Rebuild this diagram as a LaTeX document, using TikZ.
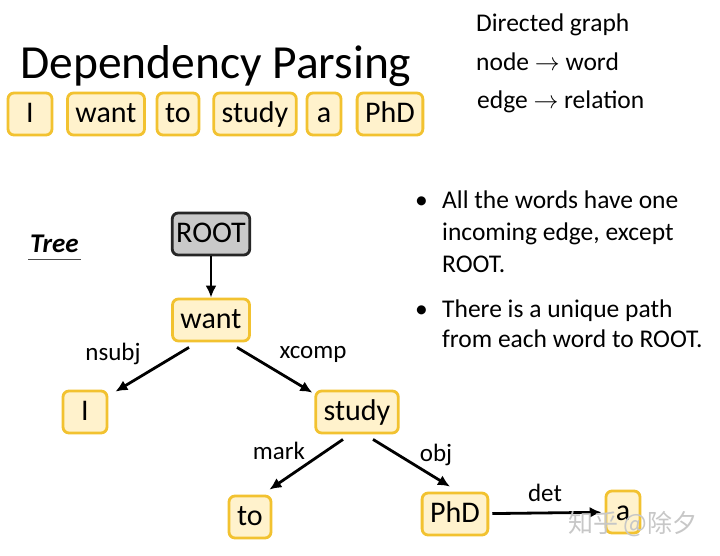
\documentclass[tikz,border=0pt]{standalone}
\usepackage{fontspec}
\setmainfont{Carlito}
\newfontfamily\cjk{Noto Sans CJK SC}
\usetikzlibrary{arrows.meta}
\definecolor{wordedge}{HTML}{F2C230}
\definecolor{wordfill}{HTML}{FFF2CC}
\definecolor{rootfill}{HTML}{C9C9C9}
\tikzset{
  word/.style={draw=wordedge, fill=wordfill, line width=2.8pt, rounded corners=6pt,
    minimum height=42pt, minimum width=34pt, inner xsep=8pt,
    text height=21pt, text depth=5pt, font=\fontsize{30}{36}\selectfont},
  rootword/.style={word, draw=black!85, fill=rootfill, inner xsep=4pt},
  dep/.style={-{Latex[length=12pt,width=11pt]}, line width=2.8pt},
  txt/.style={anchor=base west, inner sep=0pt, font=\fontsize{25.5}{30}\selectfont},
  rel/.style={anchor=base, inner sep=0pt, font=\fontsize{25}{30}\selectfont},
}
\begin{document}
\begin{tikzpicture}[x=1pt,y=-1pt]
  \useasboundingbox[fill=white] (0,0) rectangle (720,555);
  % title and sentence
  \node[txt, font=\fontsize{47.5}{56}\selectfont] (title) at (20,78) {Dependency Parsing};
  \node[word, minimum width=44pt] (sI) at (30,114) {I};
  \node[word] (swant) at (106,114) {want};
  \node[word, minimum width=42pt] (sto) at (178,114) {to};
  \node[word] (sstudy) at (255,114) {study};
  \node[word] (sa) at (324,114) {a};
  \node[word] (sPhD) at (390,114) {PhD};
  % directed graph
  \node[txt] (dgraph) at (476,31) {Directed graph};
  \node[txt] (dnode) at (476,70) {node $\rightarrow$ word};
  \node[txt] (dedge) at (477,108) {edge $\rightarrow$ relation};
  % tree
  \node[txt, font=\bfseries\itshape\fontsize{27}{32}\selectfont] (tree) at (30,252) {Tree};
  \draw[line width=1.2pt, black!70] ([shift={(-2pt,-7pt)}]tree.south west) -- ([shift={(2pt,-7pt)}]tree.south east);
  \node[rootword] (root) at (211,234) {ROOT};
  \node[word] (twant) at (211,320) {want};
  \node[word, minimum width=44pt] (tI) at (85,412) {I};
  \node[word] (tstudy) at (357,412) {study};
  \node[word, minimum width=42pt] (tto) at (250,517) {to};
  \node[word] (tPhD) at (455,514) {PhD};
  \node[word] (ta) at (623,512) {a};
  \draw[dep] (root) -- (twant);
  \draw[dep] ([shift={(-22pt,-5pt)}]twant.south) -- ([shift={(7pt,-2pt)}]tI.north east);
  \draw[dep] ([shift={(26pt,-5pt)}]twant.south) -- ([shift={(-2pt,-3pt)}]tstudy.north west);
  \draw[dep] ([shift={(-14pt,-5pt)}]tstudy.south) -- ([shift={(-3pt,5pt)}]tto.north east);
  \draw[dep] ([shift={(16pt,-5pt)}]tstudy.south) -- ([shift={(-5pt,5pt)}]tPhD.north);
  \draw[dep, shorten <=3pt, shorten >=3pt] (tPhD) -- (ta);
  \node[rel] (lnsubj) at (113,360) {nsubj};
  \node[rel] (lxcomp) at (313,358) {xcomp};
  \node[rel] (lmark) at (279,459) {mark};
  \node[rel] (lobj) at (436,461) {obj};
  \node[rel] (ldet) at (545,501) {det};
  % bullets
  \node[txt] (bulletA) at (415,208) {\textbullet};
  \node[txt] (lineA1) at (442,208) {All the words have one};
  \node[txt] (lineA2) at (442,240) {incoming edge, except};
  \node[txt] (lineA3) at (442,272) {ROOT.};
  \node[txt] (bulletB) at (415,317) {\textbullet};
  \node[txt] (lineB1) at (442,317) {There is a unique path};
  \node[txt] (lineB2) at (442,347) {from each word to ROOT.};
  \node[anchor=base west, inner sep=0pt, font=\cjk\fontsize{25}{30}\selectfont, text=black!22] (wmark) at (568,532) {知乎 @除夕};
\end{tikzpicture}
\end{document}
